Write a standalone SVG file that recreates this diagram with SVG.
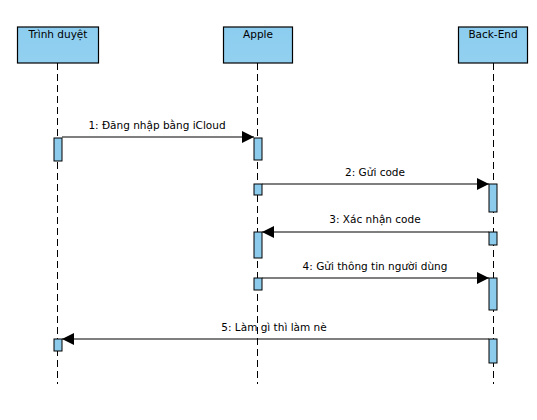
<svg xmlns="http://www.w3.org/2000/svg" width="537" height="420" viewBox="0 0 537 420">
<defs>
<linearGradient id="hg" x1="0" y1="0" x2="0" y2="1">
<stop offset="0" stop-color="#8CCDEF"/>
<stop offset="1" stop-color="#93D0F0"/>
</linearGradient>
<marker id="ah" viewBox="0 0 12 12" markerWidth="12" markerHeight="12" refX="12" refY="6" orient="auto" markerUnits="userSpaceOnUse">
<path d="M0,0 L12,6 L0,12 Z" fill="#000"/>
</marker>
</defs>
<style>
.head{fill:url(#hg);stroke:#000;stroke-width:1.2}
.life{stroke:#000;stroke-width:1;stroke-dasharray:7,4;fill:none}
.act{fill:#8DCBEC;stroke:#000;stroke-width:1}
.msg{stroke:#000;stroke-width:1.2;fill:none;marker-end:url(#ah)}
text{font-family:"DejaVu Sans","Liberation Sans",sans-serif;font-size:10.5px;fill:#000;text-anchor:middle}
</style>
<rect width="537" height="420" fill="#fff"/>
<g id="trinh-duyet">
<line class="life" x1="57.5" y1="63" x2="57.5" y2="384"/>
<rect class="head" x="17.5" y="27" width="81" height="36"/>
<text x="58" y="38">Trình duyệt</text>
<rect class="act" x="54" y="138" width="8" height="23"/>
<rect class="act" x="54" y="339" width="8" height="12"/>
</g>
<g id="apple">
<line class="life" x1="257.5" y1="63" x2="257.5" y2="384"/>
<rect class="head" x="223.5" y="27" width="69" height="36"/>
<text x="258" y="38">Apple</text>
<rect class="act" x="254" y="138" width="8" height="22"/>
<rect class="act" x="254" y="184" width="8" height="11"/>
<rect class="act" x="254" y="232" width="8" height="26"/>
<rect class="act" x="254" y="278" width="8" height="12"/>
</g>
<g id="back-end">
<line class="life" x1="493.5" y1="63" x2="493.5" y2="384"/>
<rect class="head" x="458.5" y="27" width="69" height="36"/>
<text x="493" y="38">Back-End</text>
<rect class="act" x="489" y="184" width="8" height="28"/>
<rect class="act" x="489" y="232" width="8" height="13"/>
<rect class="act" x="489" y="278" width="8" height="32"/>
<rect class="act" x="489" y="339" width="8" height="24"/>
</g>
<g id="connectors">
<line class="msg" x1="62" y1="137" x2="254" y2="137"/>
<text x="157" y="129">1: Đăng nhập bằng iCloud</text>
<line class="msg" x1="262" y1="184" x2="489" y2="184"/>
<text x="375" y="176">2: Gửi code</text>
<line class="msg" x1="489" y1="232" x2="262" y2="232"/>
<text x="375" y="223">3: Xác nhận code</text>
<line class="msg" x1="262" y1="278" x2="489" y2="278"/>
<text x="375" y="270">4: Gửi thông tin người dùng</text>
<line class="msg" x1="489" y1="339" x2="62" y2="339"/>
<text x="274" y="331">5: Làm gì thì làm nè</text>
</g>
</svg>
